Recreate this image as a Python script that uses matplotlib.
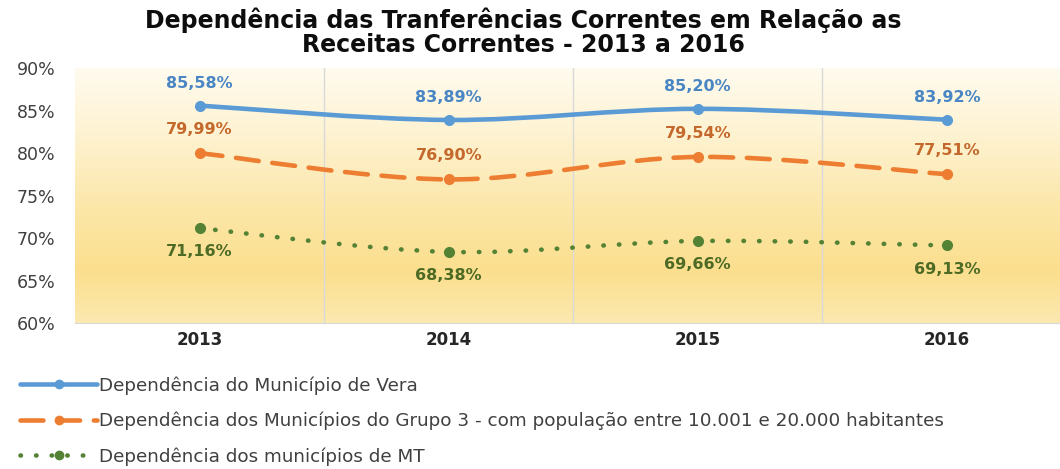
import matplotlib
matplotlib.use("Agg")
import matplotlib.pyplot as plt
import numpy as np
from matplotlib.path import Path
from matplotlib.patches import PathPatch
from matplotlib.lines import Line2D
from matplotlib.colors import LinearSegmentedColormap

plt.rcParams['font.family'] = ['DejaVu Sans']

### Data
anos = ['2013', '2014', '2015', '2016']
vera = [85.58, 83.89, 85.20, 83.92]
grupo3 = [79.99, 76.90, 79.54, 77.51]
mt = [71.16, 68.38, 69.66, 69.13]

yticks = [60, 65, 70, 75, 80, 85, 90]

nomes = ['Dependência do Município de Vera',
         'Dependência dos Municípios do Grupo 3 - com população entre 10.001 e 20.000 habitantes',
         'Dependência dos municípios de MT']

cor_linha = ['#5B9BD5', '#ED7D31', '#548235']
cor_texto = ['#4A86C4', '#C4682C', '#4E6B25']
estilos = ['-', (0, (5, 3)), (0, (0.1, 3.3))]
offsets = [16, 17, -17]


def smooth_path(xs, ys):
    ### Catmull-Rom -> cubic Bezier (Excel-like smoothed line)
    pts = np.column_stack([xs, ys]).astype(float)
    n = len(pts)
    verts = [pts[0]]
    codes = [Path.MOVETO]
    for i in range(n - 1):
        p0 = pts[max(i - 1, 0)]
        p1 = pts[i]
        p2 = pts[i + 1]
        p3 = pts[min(i + 2, n - 1)]
        c1 = p1 + (p2 - p0) / 6.0
        c2 = p2 - (p3 - p1) / 6.0
        verts += [c1, c2, p2]
        codes += [Path.CURVE4] * 3
    return Path(verts, codes)


fig = plt.figure(figsize=(10.6, 4.69), dpi=100)
ax = fig.add_axes([0.0708, 0.311, 0.94, 0.544])

x = np.arange(len(anos))
ax.set_xlim(-0.5, 3.5)
ax.set_ylim(60, 90)

### gradient background
cmap = LinearSegmentedColormap.from_list('fundo', [
    (0.0, '#FCE9B0'), (0.2, '#FBDF8E'), (0.45, '#FCE7A9'), (0.75, '#FEF3D3'), (1.0, '#FFFBEF')])
grad = np.linspace(0, 1, 256).reshape(-1, 1)
ax.imshow(grad, cmap=cmap, aspect='auto', extent=(-0.5, 3.5, 60, 90),
          origin='lower', zorder=0)

for g in [0.5, 1.5, 2.5]:
    ax.axvline(g, color='#D9D9D9', linewidth=1, zorder=1)

series = [vera, grupo3, mt]
for i, s in enumerate(series):
    patch = PathPatch(smooth_path(x, s), facecolor='none', edgecolor=cor_linha[i],
                      linewidth=3.3, linestyle=estilos[i], capstyle='round', zorder=3)
    ax.add_patch(patch)
    ax.plot(x, s, linestyle='none', marker='o', markersize=7, color=cor_linha[i], zorder=4)
    for xi, v in zip(x, s):
        ax.annotate(('%.2f' % v).replace('.', ',') + '%', (xi, v), xytext=(0, offsets[i]),
                    textcoords='offset points', ha='center', va='center',
                    fontsize=11.5, fontweight='bold', color=cor_texto[i], zorder=5)

ax.set_yticks(yticks)
ax.set_yticklabels([str(t) + '%' for t in yticks])
ax.set_xticks(x)
ax.set_xticklabels(anos, fontweight='bold')
ax.tick_params(axis='y', length=0, pad=14, labelsize=12.5, labelcolor='#404040')
ax.tick_params(axis='x', length=0, pad=6, labelsize=12, labelcolor='#262626')

for sp in ['top', 'right', 'left']:
    ax.spines[sp].set_visible(False)
ax.spines['bottom'].set_color('#D9D9D9')

fig.suptitle('Dependência das Tranferências Correntes em Relação as\nReceitas Correntes - 2013 a 2016',
             x=0.494, y=0.985, fontsize=17, fontweight='bold', color='#0D0D0D', linespacing=1.05)

handles = [Line2D([0], [0], color=cor_linha[i], linewidth=3.3, linestyle=estilos[i],
                  marker='o', markersize=6, dash_capstyle='round', solid_capstyle='round')
           for i in range(3)]
fig.legend(handles, nomes, loc='upper left', bbox_to_anchor=(0.019, 0.198), frameon=False,
           handlelength=4.2, handletextpad=0.1, labelspacing=0.93, fontsize=13.2,
           labelcolor='#404040', borderpad=0, borderaxespad=0)

plt.savefig('out.png', dpi=100)
